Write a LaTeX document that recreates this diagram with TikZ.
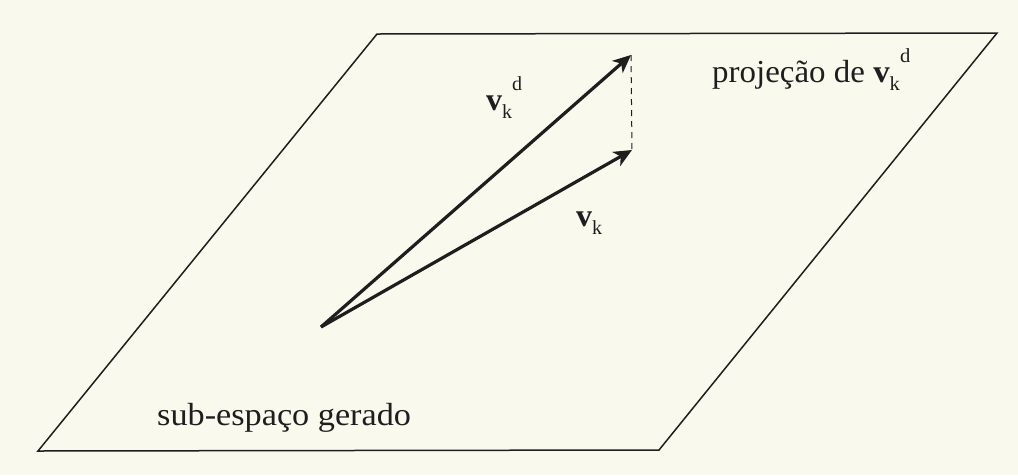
\documentclass[tikz,border=0pt]{standalone}
\usepackage{fontspec}
\setmainfont{Liberation Serif}
\usetikzlibrary{arrows.meta}
\definecolor{paper}{RGB}{250,249,238}
\definecolor{ink}{RGB}{30,30,30}
\newcommand{\vecv}[1]{\textbf{v}\raisebox{-0.28em}{\fontsize{20}{24}\selectfont k}#1}
\newcommand{\supd}{\raisebox{0.62em}{\fontsize{20}{24}\selectfont d}}
\begin{document}
\begin{tikzpicture}[x=1pt,y=-1pt,
  plane/.style={draw=ink,line width=1.5pt,line join=miter},
  vecarrow/.style={draw=ink,line width=3.2pt,-{Stealth[length=18pt,width=16pt,inset=5pt]}},
  projline/.style={draw=ink,line width=1pt,dash pattern=on 6pt off 5pt},
  lbl/.style={inner sep=0pt,anchor=base west,text=ink,font=\fontsize{32}{36}\selectfont}]
\fill[paper] (0,0) rectangle (1018,475);
\useasboundingbox (0,0) rectangle (1018,475);
\coordinate (P1) at (377,34);
\coordinate (P2) at (997,33);
\coordinate (P3) at (659,450);
\coordinate (P4) at (38,451);
\draw[plane] (P1) -- (P2) -- (P3) -- (P4) -- cycle;
\coordinate (O) at (321,327);
\coordinate (A) at (631,55);
\coordinate (B) at (632,150);
\draw[projline] (A) -- (B);
\draw[vecarrow] (O) -- (A);
\draw[vecarrow] (O) -- (B);
\node[lbl] (lvd) at (486,110) {\vecv{\supd}};
\node[lbl] (lv) at (576,226) {\vecv{}};
\node[lbl] (lproj) at (712,82) {\scalebox{1.03}[1]{projeção de \vecv{\supd}}};
\node[lbl] (lsub) at (157,425) {\scalebox{1.07}[1]{sub-espaço gerado}};
\end{tikzpicture}
\end{document}
